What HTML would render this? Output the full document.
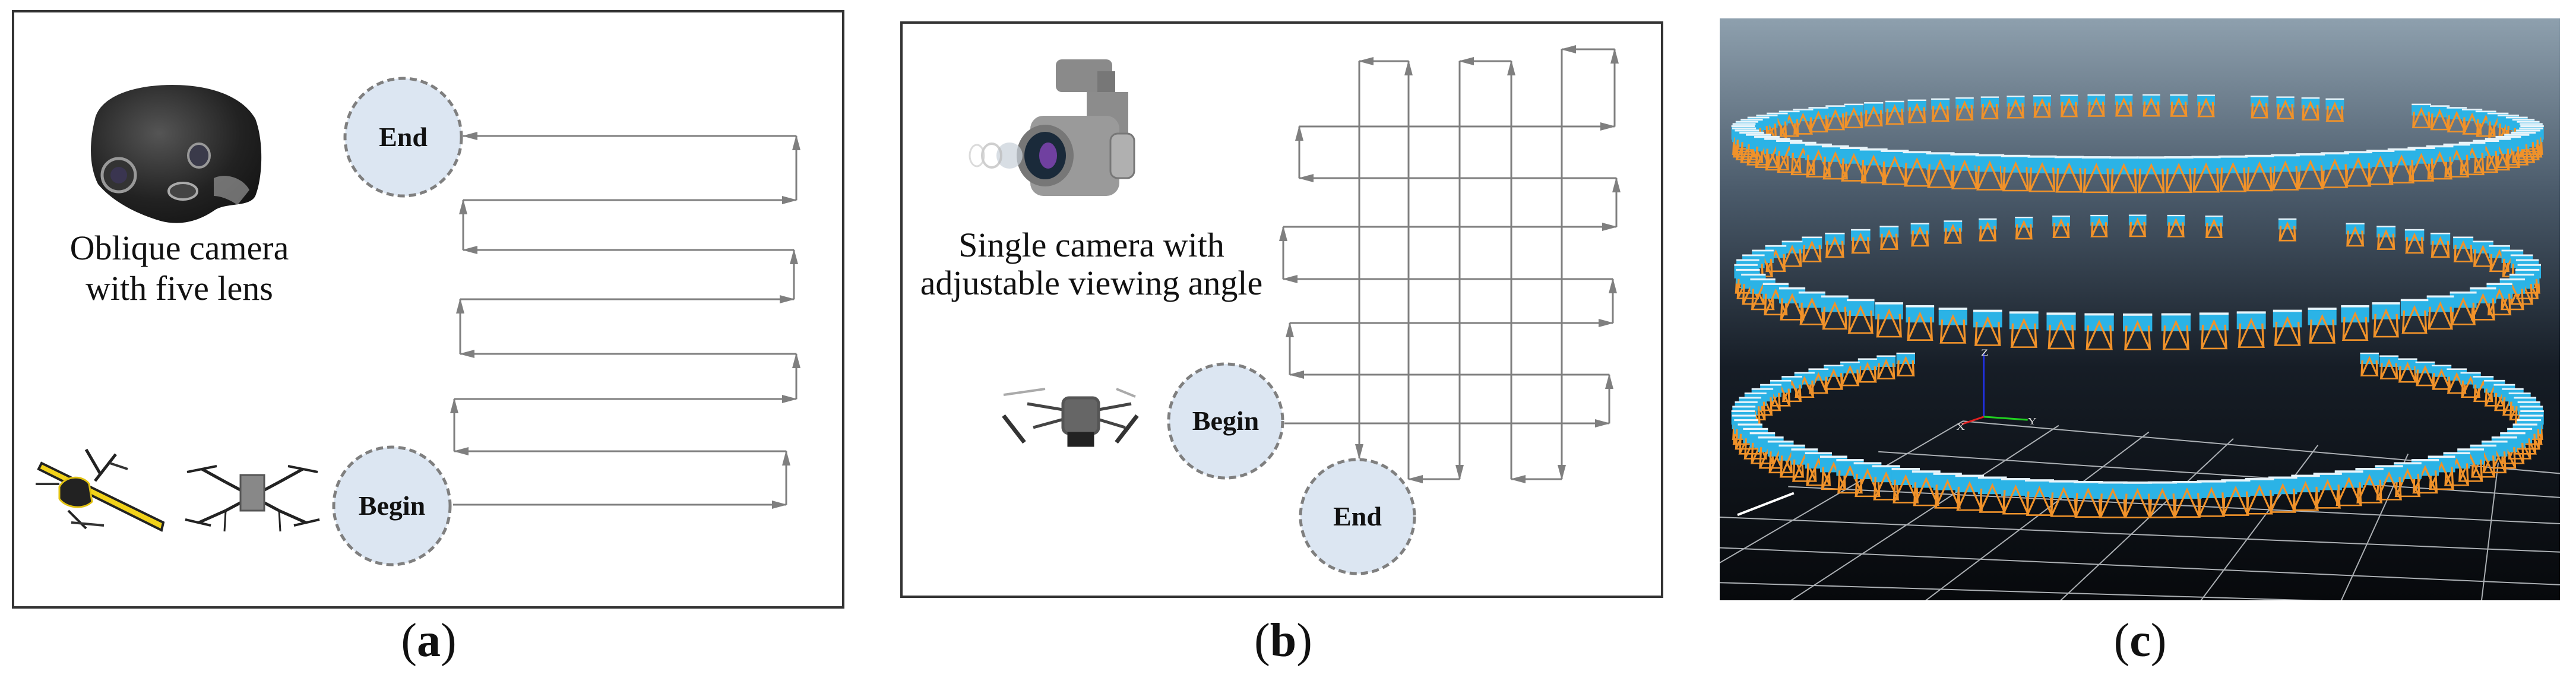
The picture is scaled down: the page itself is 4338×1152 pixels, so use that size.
<!DOCTYPE html>
<html><head><meta charset="utf-8">
<style>
html,body{margin:0;padding:0;background:#fff;}
svg{display:block;}
text{font-family:"Liberation Serif",serif;}
</style></head>
<body>
<svg id="s" width="4338" height="1152" viewBox="0 0 4338 1152" xmlns="http://www.w3.org/2000/svg">
<defs>
<marker id="ar" markerUnits="userSpaceOnUse" markerWidth="26" markerHeight="16" refX="24" refY="8" orient="auto">
<path d="M0,1 L26,8 L0,15 Z" fill="#7f7f7f"/>
</marker>
<linearGradient id="bg" x1="0" y1="0" x2="0" y2="1">
<stop offset="0" stop-color="#8ea0ae"/>
<stop offset="0.3" stop-color="#4a5a6a"/>
<stop offset="0.6" stop-color="#161d26"/>
<stop offset="1" stop-color="#07090c"/>
</linearGradient>
<radialGradient id="cam" cx="0.4" cy="0.35" r="0.8">
<stop offset="0" stop-color="#555"/>
<stop offset="0.6" stop-color="#222"/>
<stop offset="1" stop-color="#111"/>
</radialGradient>
<clipPath id="cc"><rect x="2896" y="31" width="1415" height="980"/></clipPath>
</defs>

<!-- Panel a -->
<rect x="22" y="19" width="1398" height="1004" fill="#fff" stroke="#333" stroke-width="4"/>
<g>
<path d="M160,200 C170,160 230,143 290,143 C360,143 410,165 430,200 C445,240 442,300 430,330 C420,350 380,340 360,355 C330,375 300,380 270,372 C230,360 190,340 165,310 C150,280 150,240 160,200 Z" fill="url(#cam)"/>
<circle cx="200" cy="295" r="28" fill="#333" stroke="#999" stroke-width="5"/><circle cx="200" cy="295" r="14" fill="#3a3550"/>
<ellipse cx="308" cy="322" rx="24" ry="14" fill="#444" stroke="#aaa" stroke-width="4"/>
<ellipse cx="335" cy="262" rx="18" ry="20" fill="#3a3a4a" stroke="#999" stroke-width="4"/>
<path d="M360,300 C380,290 410,300 420,320 L400,345 C385,335 370,330 360,330 Z" fill="#aaa" opacity="0.6"/>
</g>
<text x="302" y="437" font-size="58" text-anchor="middle" fill="#111">Oblique camera</text>
<text x="302" y="505" font-size="58" text-anchor="middle" fill="#111">with five lens</text>
<g>
<path d="M70,780 L275,880 L272,893 L65,790 Z" fill="#f2d21a" stroke="#222" stroke-width="4"/>
<path d="M100,820 C110,800 140,800 150,815 L155,845 C140,860 110,855 100,840 Z" fill="#222" stroke="#e0c010" stroke-width="3"/>
<line x1="145" y1="757" x2="170" y2="800" stroke="#222" stroke-width="5"/>
<line x1="195" y1="765" x2="160" y2="810" stroke="#222" stroke-width="5"/>
<line x1="115" y1="860" x2="145" y2="890" stroke="#222" stroke-width="4"/>
<line x1="60" y1="815" x2="100" y2="815" stroke="#333" stroke-width="4"/>
<line x1="185" y1="780" x2="215" y2="790" stroke="#333" stroke-width="4"/>
<line x1="120" y1="880" x2="175" y2="885" stroke="#333" stroke-width="4"/>
</g>
<g stroke="#222" stroke-width="5" fill="#333">
<line x1="380" y1="812" x2="470" y2="860"/><line x1="470" y1="812" x2="380" y2="860"/>
<line x1="340" y1="790" x2="380" y2="812"/><line x1="510" y1="790" x2="470" y2="812"/>
<line x1="335" y1="880" x2="380" y2="860"/><line x1="515" y1="880" x2="470" y2="860"/>
<rect x="405" y="800" width="40" height="60" fill="#888" stroke="#555" stroke-width="3"/>
<line x1="315" y1="795" x2="365" y2="785" stroke-width="4"/><line x1="485" y1="785" x2="535" y2="795" stroke-width="4"/>
<line x1="312" y1="875" x2="355" y2="885" stroke-width="4"/><line x1="495" y1="885" x2="538" y2="875" stroke-width="4"/>
<line x1="380" y1="860" x2="378" y2="895" stroke-width="3"/><line x1="470" y1="860" x2="472" y2="895" stroke-width="3"/>
</g>
<ellipse cx="679" cy="231" rx="98" ry="99" fill="#dce6f2" stroke="#7f7f7f" stroke-width="5" stroke-dasharray="12 7"/>
<text x="679" y="246" font-size="46" font-weight="bold" text-anchor="middle" fill="#111">End</text>
<ellipse cx="660" cy="852" rx="98" ry="99" fill="#dce6f2" stroke="#7f7f7f" stroke-width="5" stroke-dasharray="12 7"/>
<text x="660" y="867" font-size="46" font-weight="bold" text-anchor="middle" fill="#111">Begin</text>
<g stroke="#7f7f7f" stroke-width="3" fill="none" marker-end="url(#ar)">
<line x1="763" y1="850" x2="1324" y2="850"/>
<line x1="1324" y1="850" x2="1324" y2="760"/>
<line x1="1324" y1="760" x2="765" y2="760"/>
<line x1="765" y1="760" x2="765" y2="672"/>
<line x1="765" y1="672" x2="1341" y2="672"/>
<line x1="1341" y1="672" x2="1341" y2="596"/>
<line x1="1341" y1="596" x2="775" y2="596"/>
<line x1="775" y1="596" x2="775" y2="504"/>
<line x1="775" y1="504" x2="1337" y2="504"/>
<line x1="1337" y1="504" x2="1337" y2="421"/>
<line x1="1337" y1="421" x2="780" y2="421"/>
<line x1="780" y1="421" x2="780" y2="337"/>
<line x1="780" y1="337" x2="1341" y2="337"/>
<line x1="1341" y1="337" x2="1341" y2="229"/>
<line x1="1341" y1="229" x2="780" y2="229"/>
</g>
<text x="722" y="1105" font-size="80" text-anchor="middle" fill="#111">(<tspan font-weight="bold">a</tspan>)</text>

<!-- Panel b -->
<rect x="1518" y="38" width="1281" height="967" fill="#fff" stroke="#333" stroke-width="4"/>
<g>
<rect x="1778" y="100" width="95" height="55" rx="10" fill="#8a8a8a"/>
<rect x="1848" y="120" width="30" height="90" fill="#777"/>
<rect x="1830" y="155" width="70" height="80" fill="#8c8c8c"/>
<rect x="1735" y="195" width="150" height="135" rx="22" fill="#9a9a9a"/>
<rect x="1870" y="225" width="40" height="75" rx="12" fill="#b0b0b0" stroke="#777" stroke-width="3"/>
<ellipse cx="1760" cy="262" rx="48" ry="52" fill="#777"/>
<ellipse cx="1760" cy="262" rx="35" ry="40" fill="#1a2a3a"/>
<ellipse cx="1765" cy="262" rx="15" ry="22" fill="#7040a0"/>
<ellipse cx="1700" cy="262" rx="22" ry="22" fill="#c8d0d8" opacity="0.7"/>
<ellipse cx="1670" cy="262" rx="16" ry="20" fill="none" stroke="#bbb" stroke-width="4" opacity="0.7"/>
<ellipse cx="1645" cy="262" rx="12" ry="18" fill="none" stroke="#ccc" stroke-width="3" opacity="0.7"/>
</g>
<text x="1838" y="432" font-size="58" text-anchor="middle" fill="#111">Single camera with</text>
<text x="1838" y="496" font-size="58" text-anchor="middle" fill="#111">adjustable viewing angle</text>
<g stroke="#444" stroke-width="5" fill="none">
<line x1="1730" y1="680" x2="1790" y2="690"/><line x1="1850" y1="690" x2="1905" y2="680"/>
<line x1="1740" y1="720" x2="1795" y2="705"/><line x1="1845" y1="705" x2="1895" y2="720"/>
<line x1="1690" y1="665" x2="1760" y2="655" stroke="#aaa" stroke-width="4"/>
<line x1="1880" y1="655" x2="1912" y2="668" stroke="#aaa" stroke-width="4"/>
<path d="M1690,700 L1725,745" stroke="#333" stroke-width="7"/>
<path d="M1915,700 L1880,745" stroke="#333" stroke-width="7"/>
<rect x="1790" y="670" width="60" height="60" rx="10" fill="#666" stroke="#555"/>
<rect x="1800" y="730" width="40" height="20" fill="#222" stroke="#222"/>
</g>
<ellipse cx="2064" cy="709" rx="96" ry="96" fill="#dce6f2" stroke="#7f7f7f" stroke-width="5" stroke-dasharray="12 7"/>
<text x="2064" y="724" font-size="46" font-weight="bold" text-anchor="middle" fill="#111">Begin</text>
<ellipse cx="2286" cy="870" rx="96" ry="96" fill="#dce6f2" stroke="#7f7f7f" stroke-width="5" stroke-dasharray="12 7"/>
<text x="2286" y="885" font-size="46" font-weight="bold" text-anchor="middle" fill="#111">End</text>
<g stroke="#7f7f7f" stroke-width="3" fill="none" marker-end="url(#ar)">
<line x1="2163" y1="713" x2="2710" y2="713"/>
<line x1="2710" y1="713" x2="2710" y2="631"/>
<line x1="2710" y1="631" x2="2172" y2="631"/>
<line x1="2172" y1="631" x2="2172" y2="544"/>
<line x1="2172" y1="544" x2="2716" y2="544"/>
<line x1="2716" y1="544" x2="2716" y2="470"/>
<line x1="2716" y1="470" x2="2161" y2="470"/>
<line x1="2161" y1="470" x2="2161" y2="382"/>
<line x1="2161" y1="382" x2="2722" y2="382"/>
<line x1="2722" y1="382" x2="2722" y2="300"/>
<line x1="2722" y1="300" x2="2188" y2="300"/>
<line x1="2188" y1="300" x2="2188" y2="213"/>
<line x1="2188" y1="213" x2="2719" y2="213"/>
<line x1="2719" y1="213" x2="2719" y2="83"/>
<line x1="2719" y1="83" x2="2630" y2="83"/>
<line x1="2630" y1="83" x2="2630" y2="807"/>
<line x1="2630" y1="807" x2="2545" y2="807"/>
<line x1="2545" y1="807" x2="2545" y2="103"/>
<line x1="2545" y1="103" x2="2458" y2="103"/>
<line x1="2458" y1="103" x2="2458" y2="807"/>
<line x1="2458" y1="807" x2="2372" y2="807"/>
<line x1="2372" y1="807" x2="2372" y2="103"/>
<line x1="2372" y1="103" x2="2289" y2="103"/>
<line x1="2289" y1="103" x2="2289" y2="772"/>
</g>
<text x="2161" y="1105" font-size="80" text-anchor="middle" fill="#111">(<tspan font-weight="bold">b</tspan>)</text>

<!-- Panel c -->
<g clip-path="url(#cc)">
<rect x="2896" y="31" width="1415" height="980" fill="url(#bg)"/>
<g transform="translate(2850,0) scale(0.949,0.735)" id="cg">
<g stroke="#c8ccd0" stroke-width="2" opacity="0.85">
<line x1="480" y1="965" x2="1540" y2="1085" vector-effect="non-scaling-stroke"/>
<line x1="330" y1="1035" x2="1540" y2="1140" vector-effect="non-scaling-stroke"/>
<line x1="170" y1="1115" x2="1540" y2="1200" vector-effect="non-scaling-stroke"/>
<line x1="48" y1="1185" x2="1540" y2="1265" vector-effect="non-scaling-stroke"/>
<line x1="48" y1="1255" x2="1540" y2="1340" vector-effect="non-scaling-stroke"/>
<line x1="48" y1="1335" x2="1200" y2="1380" vector-effect="non-scaling-stroke"/>
<line x1="480" y1="965" x2="48" y2="1290" vector-effect="non-scaling-stroke"/>
<line x1="650" y1="975" x2="170" y2="1380" vector-effect="non-scaling-stroke"/>
<line x1="810" y1="990" x2="410" y2="1380" vector-effect="non-scaling-stroke"/>
<line x1="960" y1="1005" x2="650" y2="1380" vector-effect="non-scaling-stroke"/>
<line x1="1110" y1="1020" x2="900" y2="1380" vector-effect="non-scaling-stroke"/>
<line x1="1270" y1="1040" x2="1150" y2="1380" vector-effect="non-scaling-stroke"/>
<line x1="1430" y1="1060" x2="1400" y2="1380" vector-effect="non-scaling-stroke"/>
</g>
<line x1="80" y1="1180" x2="180" y2="1130" stroke="#fff" stroke-width="4" vector-effect="non-scaling-stroke"/>
<line x1="517" y1="955" x2="517" y2="810" stroke="#2030e0" stroke-width="3" vector-effect="non-scaling-stroke"/>
<line x1="517" y1="955" x2="595" y2="962" stroke="#20d020" stroke-width="3" vector-effect="non-scaling-stroke"/>
<line x1="517" y1="955" x2="478" y2="972" stroke="#e02020" stroke-width="3" vector-effect="non-scaling-stroke"/>
<text x="512" y="815" font-size="22" fill="#ddd" font-family="Liberation Sans, sans-serif">Z</text>
<text x="595" y="972" font-size="22" fill="#ddd" font-family="Liberation Sans, sans-serif">Y</text>
<text x="468" y="985" font-size="22" fill="#ddd" font-family="Liberation Sans, sans-serif">X</text>
</g>
</g>
<text x="3604" y="1105" font-size="80" text-anchor="middle" fill="#111">(<tspan font-weight="bold">c</tspan>)</text>
</svg>
<script>
(function(){
var g=document.getElementById('cg'),NS='http://www.w3.org/2000/svg',items=[];
var rings=[
 {cx:790,rx:700,cy:322,ry:80,n:90,gaps:[[930,985],[1140,1280]]},
 {cx:790,rx:695,cy:640,ry:122,n:64,gaps:[[960,1040],[1110,1170]]},
 {cx:790,rx:700,cy:975,ry:172,n:100,gaps:[[380,1180]]}
];
rings.forEach(function(r){
 for(var i=0;i<r.n;i++){
  var t=2*Math.PI*i/r.n,x=r.cx+r.rx*Math.cos(t),s=Math.sin(t),y=r.cy+r.ry*s;
  if(s<0){var skip=false;r.gaps.forEach(function(gp){if(x>gp[0]&&x<gp[1])skip=true;});if(skip)continue;}
  items.push({x:x,y:y,s:52*(0.8+0.2*s)});
 }
});
items.sort(function(a,b){return a.y-b.y;});
var h='';
items.forEach(function(c){
 var x=c.x,y=c.y,s=c.s;
 h+='<rect x="'+(x-s/2)+'" y="'+(y-s*0.8)+'" width="'+s+'" height="'+(s*0.75)+'" fill="#2bb3e6"/>';
 h+='<rect x="'+(x-s/2)+'" y="'+(y-s*0.84)+'" width="'+s+'" height="'+(s*0.1)+'" fill="#e8f4fa"/>';
 h+='<path d="M'+x+','+(y-s*0.45)+' L'+(x-s*0.42)+','+(y+s*0.75)+' L'+(x+s*0.42)+','+(y+s*0.75)+' Z M'+(x-s*0.38)+','+(y-s*0.3)+' L'+(x-s*0.42)+','+(y+s*0.75)+' M'+(x+s*0.38)+','+(y-s*0.3)+' L'+(x+s*0.42)+','+(y+s*0.75)+'" fill="none" stroke="#f0922a" stroke-width="3.5"/>';
});
var w=document.createElementNS(NS,'g');w.innerHTML=h;g.appendChild(w);
})();
</script>
</body></html>
